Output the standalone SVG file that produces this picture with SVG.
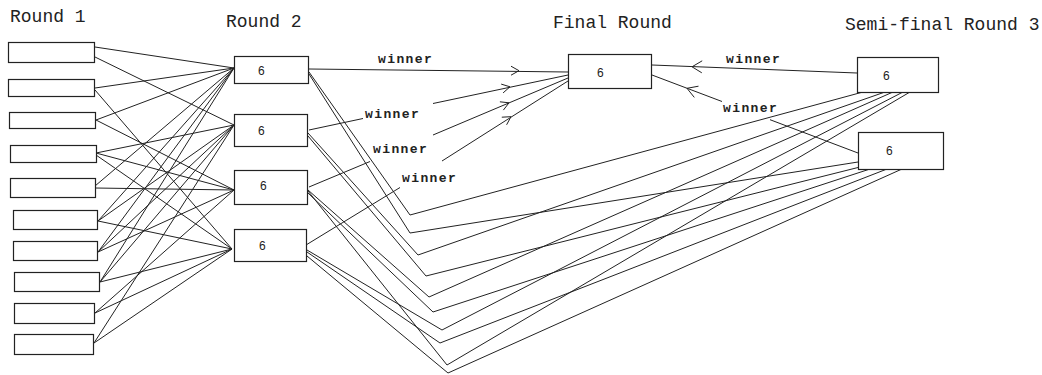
<svg xmlns="http://www.w3.org/2000/svg" width="1042" height="375" viewBox="0 0 1042 375">
<style>
.box{fill:#fff;stroke:#222;stroke-width:1.2}
.ln{stroke:#222;stroke-width:1;fill:none}
.title{font-family:"Liberation Mono","DejaVu Sans Mono",monospace;font-size:18px;fill:#222}
.win{font-family:"Liberation Mono","DejaVu Sans Mono",monospace;font-size:13px;font-weight:bold;letter-spacing:1.4px;fill:#222}
.num{font-family:"Liberation Sans",Arial,sans-serif;font-size:12px;fill:#222}
</style>
<rect width="1042" height="375" fill="#fff"/>
<g id="titles">
<text class="title" x="10" y="22">Round 1</text>
<text class="title" x="226" y="27">Round 2</text>
<text class="title" x="553" y="28">Final Round</text>
<text class="title" x="845" y="30">Semi-final Round 3</text>
</g>
<g id="connectors">
<!-- Round 1 to Round 2 -->
<path class="ln" d="M95,47L234,68M95,57L234,125
M95,88L234,68M95,90L232,249
M96,120L234,68M96,120L234,190
M96,153L234,125M96,153L234,190M96,155L232,249
M95,188L234,190M95,186L234,68
M98,221L232,249M98,221L234,125M98,221L234,68
M98,252L234,190M98,252L234,68M98,252L234,125
M100,282L232,249M100,282L234,125M100,282L234,68
M95,313L232,249M95,313L234,190
M94,343L232,249M94,343L234,125"/>
<!-- Round 2 to Semi-final (via lower turning points) -->
<path class="ln" d="M309,72L410,215L863,92
M309,74L410,233L858,162
M308,133L418,255L885,92
M308,136L426,276L860,167
M308,190L429,297L893,92
M308,193L433,312L870,169
M308,191L447,365L910,92
M307,250L442,330L903,92
M307,252L440,343L887,169
M307,256L448,373L902,169"/>
<!-- winner lines to Final -->
<path class="ln" d="M309,69L568,72
M309,130L363,118.5M433,103.5L568,75
M309,187L370,161.5M433,135L568,78
M306,245L400,187.5M442,161L568,81
M652,65L857,73
M652,75L722,101.5M770,119.7L858,153"/>
<!-- open arrowheads -->
<path class="ln" d="M511,66.2L519,70.7L511,75.2
M503.1,92.9L510,86.8L501.2,84.1
M503.4,110.1L509,102.8L499.9,101.8
M506.6,124.8L511,116.7L501.8,117.2
M702.2,60.8L692,66.8L701.8,72.8
M698.5,86.2L687,88.3L694.3,97.4"/>
<text class="win" x="378" y="63">winner</text>
<text class="win" x="365" y="118">winner</text>
<text class="win" x="373" y="153">winner</text>
<text class="win" x="402" y="182">winner</text>
<text class="win" x="726" y="63">winner</text>
<text class="win" x="723" y="112">winner</text>
</g>
<g id="r1-1"><rect class="box" x="8.5" y="42.5" width="86" height="20"/></g>
<g id="r1-2"><rect class="box" x="8.5" y="79.5" width="86" height="17"/></g>
<g id="r1-3"><rect class="box" x="9.5" y="112.5" width="86" height="16"/></g>
<g id="r1-4"><rect class="box" x="10.5" y="145.5" width="86" height="17"/></g>
<g id="r1-5"><rect class="box" x="10.5" y="178.5" width="85" height="19"/></g>
<g id="r1-6"><rect class="box" x="13.5" y="210.5" width="84" height="19"/></g>
<g id="r1-7"><rect class="box" x="13.5" y="241.5" width="84" height="19"/></g>
<g id="r1-8"><rect class="box" x="14.5" y="272.5" width="85" height="19"/></g>
<g id="r1-9"><rect class="box" x="14.5" y="303.5" width="80" height="20"/></g>
<g id="r1-10"><rect class="box" x="14.5" y="334.5" width="79" height="20"/></g>
<g id="r2-1"><rect class="box" x="234.5" y="56.5" width="74" height="27"/><text class="num" x="258" y="75">6</text></g>
<g id="r2-2"><rect class="box" x="234.5" y="114.5" width="73" height="32"/><text class="num" x="258" y="135">6</text></g>
<g id="r2-3"><rect class="box" x="234.5" y="170.5" width="73" height="34"/><text class="num" x="260" y="190">6</text></g>
<g id="r2-4"><rect class="box" x="234.5" y="229.5" width="72" height="32"/><text class="num" x="259" y="250">6</text></g>
<g id="final"><rect class="box" x="568.5" y="54.5" width="83" height="34"/><text class="num" x="597" y="77">6</text></g>
<g id="semi-1"><rect class="box" x="857.5" y="57.5" width="81" height="35"/><text class="num" x="883" y="80">6</text></g>
<g id="semi-2"><rect class="box" x="858.5" y="132.5" width="85" height="37"/><text class="num" x="886" y="155">6</text></g>
</svg>
